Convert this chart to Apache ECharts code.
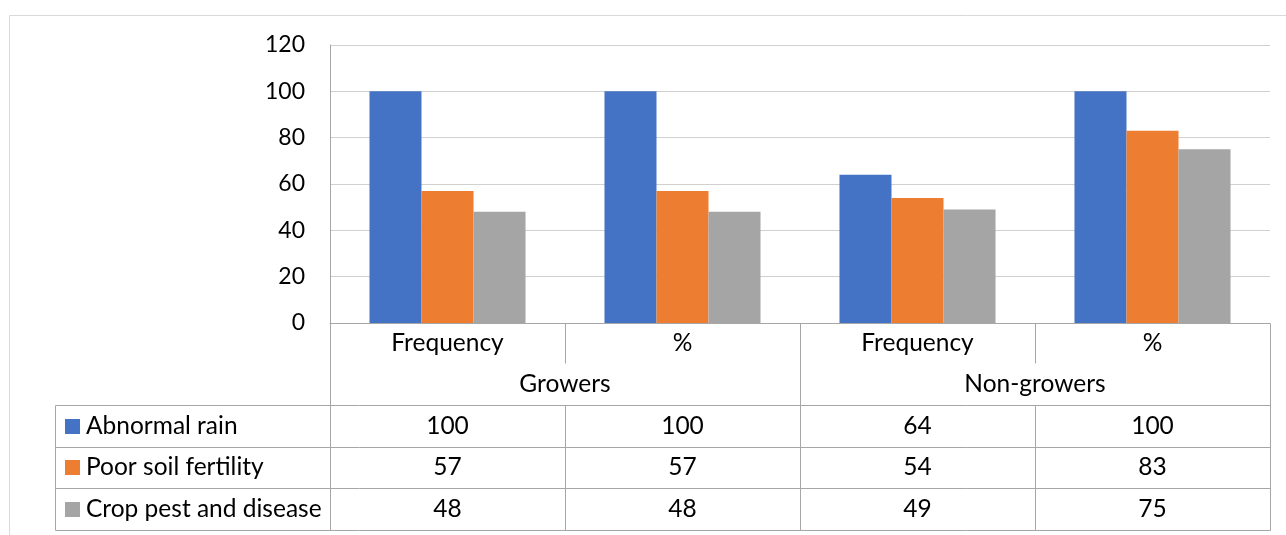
<!DOCTYPE html>
<html>
<head>
<meta charset="utf-8">
<script src="https://cdn.jsdelivr.net/npm/echarts@6/dist/echarts.min.js"></script>
<style>
  html, body { margin: 0; padding: 0; background: #ffffff; }
  #chart { width: 1286px; height: 535px; }
</style>
</head>
<body>
<div id="chart"></div>
<script>
// Survey categories: each group has a Frequency column and a % column
const groups = ['Growers', 'Non-growers'];
const measures = ['Frequency', '%', 'Frequency', '%'];

// Series values per column
const seriesNames = ['Abnormal rain', 'Poor soil fertility', 'Crop pest and disease'];
const abnormalRain = [100, 100, 64, 100];
const poorSoilFertility = [57, 57, 54, 83];
const cropPestDisease = [48, 48, 49, 75];
const seriesValues = [abnormalRain, poorSoilFertility, cropPestDisease];

// Value axis range
const yMin = 0;
const yMax = 120;
const yStep = 20;

const colors = ['#4472C4', '#ED7D31', '#A5A5A5'];
const FONT = 'Lato';
const FS = 24.5;      // table text
const AXIS_FS = 23;   // value axis labels
const LINE = '#a6a6a6';
const GRID = '#d0d0d0';

const chart = echarts.init(document.getElementById('chart'), null, { renderer: 'canvas' });

const option = {
  animation: false,
  backgroundColor: '#ffffff',
  textStyle: { fontFamily: FONT },
  grid: { left: 330, right: 16, top: 45, bottom: 212, containLabel: false },
  xAxis: {
    type: 'category',
    data: measures,
    axisLine: { show: true, lineStyle: { color: LINE, width: 1 } },
    axisTick: { show: false },
    axisLabel: { show: false },
    splitLine: { show: false }
  },
  yAxis: {
    type: 'value',
    min: yMin,
    max: yMax,
    interval: yStep,
    axisLine: { show: true, lineStyle: { color: LINE, width: 1 } },
    axisTick: { show: false },
    axisLabel: { color: '#000000', fontSize: AXIS_FS, fontFamily: FONT, margin: 25 },
    splitLine: { show: true, lineStyle: { color: GRID, width: 1 } }
  },
  series: seriesNames.map((name, i) => ({
    name: name,
    type: 'bar',
    data: seriesValues[i],
    barGap: '0%',
    barCategoryGap: '33.6%',
    itemStyle: { color: colors[i] }
  }))
};

chart.setOption(option);

// Data table under the plot, laid out from the axis positions
function buildTable() {
  const c0 = chart.convertToPixel({ xAxisIndex: 0 }, 0);
  const c1 = chart.convertToPixel({ xAxisIndex: 0 }, 1);
  const band = c1 - c0;
  const xLeft = c0 - band / 2;
  const bounds = measures.map((_, i) => xLeft + i * band).concat([xLeft + measures.length * band]);
  const xRight = bounds[bounds.length - 1];
  const yBase = chart.convertToPixel({ yAxisIndex: 0 }, 0);

  const headerH = 40;
  const groupH = 42;
  const rowH = 41.5;
  const tableLeft = 55;
  const rowTop = yBase + headerH + groupH;
  const tableBottom = rowTop + rowH * seriesNames.length;
  const perGroup = measures.length / groups.length;

  const els = [];
  const line = (x1, y1, x2, y2) => els.push({
    type: 'line', silent: true,
    shape: { x1: Math.round(x1) + 0.5, y1: Math.round(y1) + 0.5, x2: Math.round(x2) + 0.5, y2: Math.round(y2) + 0.5 },
    style: { stroke: LINE, lineWidth: 1 }
  });
  const text = (str, x, y, align) => els.push({
    type: 'text', silent: true, x: x, y: y,
    style: { text: str, fill: '#000000', font: FS + 'px ' + FONT, align: align || 'center', verticalAlign: 'middle' }
  });

  // outer chart frame
  els.push({
    type: 'rect', silent: true,
    shape: { x: 9.5, y: 15.5, width: 1400, height: 700 },
    style: { fill: 'none', stroke: '#d9d9d9', lineWidth: 1 }
  });

  // vertical dividers
  bounds.forEach((x, i) => {
    const isGroupEdge = i % perGroup === 0;
    if (isGroupEdge) {
      line(x, yBase, x, tableBottom);
    } else {
      line(x, yBase, x, yBase + headerH);
      line(x, rowTop, x, tableBottom);
    }
  });
  line(tableLeft, rowTop, tableLeft, tableBottom);

  // horizontal rules of the value rows
  for (let r = 0; r <= seriesNames.length; r++) {
    line(tableLeft, rowTop + r * rowH, xRight, rowTop + r * rowH);
  }

  // column headers
  measures.forEach((m, i) => text(m, (bounds[i] + bounds[i + 1]) / 2, yBase + headerH / 2));
  groups.forEach((g, gi) => {
    const xa = bounds[gi * perGroup];
    const xb = bounds[(gi + 1) * perGroup];
    text(g, (xa + xb) / 2, yBase + headerH + groupH / 2);
  });

  // value rows with legend keys
  seriesNames.forEach((name, r) => {
    const yc = rowTop + r * rowH + rowH / 2;
    els.push({
      type: 'rect', silent: true,
      shape: { x: 65, y: Math.round(yc - 7), width: 15, height: 15 },
      style: { fill: colors[r] }
    });
    text(name, 86, yc, 'left');
    seriesValues[r].forEach((v, i) => text(String(v), (bounds[i] + bounds[i + 1]) / 2, yc));
  });

  chart.setOption({ graphic: { elements: els } });
}

buildTable();
</script>
</body>
</html>
